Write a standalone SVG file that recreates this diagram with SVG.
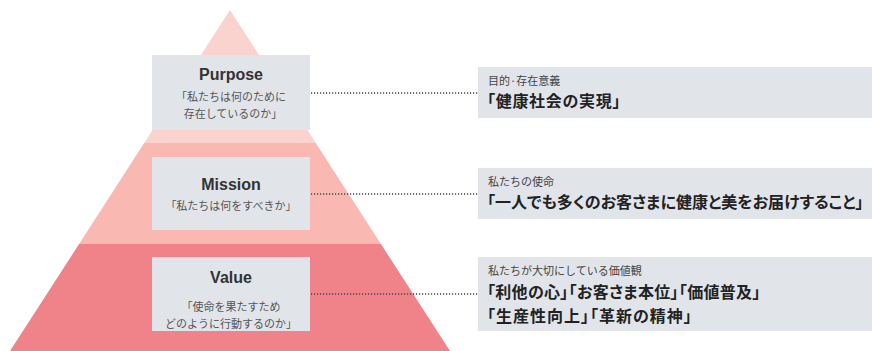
<svg xmlns="http://www.w3.org/2000/svg" width="872" height="351" viewBox="0 0 872 351">
<style>
.box{fill:#e1e5ea}
.title{font-family:"Liberation Sans","Noto Sans CJK JP",sans-serif;font-size:16px;font-weight:bold;fill:#333;text-anchor:middle}
.sub{font-family:"Noto Sans CJK JP",sans-serif;font-size:11px;fill:#555;text-anchor:middle}
.lbl{font-family:"Noto Sans CJK JP",sans-serif;font-size:11px;fill:#444}
.big{font-family:"Noto Sans CJK JP",sans-serif;font-size:16px;font-weight:bold;fill:#222;font-feature-settings:"palt"}
.dot{stroke:#444;stroke-width:1.3;stroke-dasharray:1.2 1.8;fill:none}
</style>
<g id="pyramid">
<polygon points="230,10 315.8,143 144.2,143" fill="#fad3ce"/>
<polygon points="144.2,143 315.8,143 380.9,244 79.1,244" fill="#f9b8b2"/>
<polygon points="79.1,244 380.9,244 450,351 10,351" fill="#f08289"/>
</g>
<g id="connectors">
<line class="dot" x1="311" y1="93" x2="478" y2="93"/>
<line class="dot" x1="311" y1="194" x2="478" y2="194"/>
<line class="dot" x1="311" y1="294" x2="478" y2="294"/>
</g>
<g id="purpose">
<rect class="box" x="152" y="55" width="158" height="75"/>
<text class="title" x="231" y="80">Purpose</text>
<text class="sub" x="231" y="101">「私たちは何のために</text>
<text class="sub" x="233" y="118">存在しているのか」</text>
</g>
<g id="mission">
<rect class="box" x="152" y="157" width="158" height="73"/>
<text class="title" x="231" y="190">Mission</text>
<text class="sub" x="231" y="210">「私たちは何をすべきか」</text>
</g>
<g id="value">
<rect class="box" x="152" y="257" width="158" height="74"/>
<text class="title" x="231" y="283">Value</text>
<text class="sub" x="231" y="311">「使命を果たすため</text>
<text class="sub" x="231" y="328">どのように行動するのか」</text>
</g>
<g id="purpose-desc">
<rect class="box" x="478" y="67" width="394" height="51"/>
<text class="lbl" x="488" y="85">目的·存在意義</text>
<text class="big" x="487" y="107" letter-spacing="0.7">「健康社会の実現」</text>
</g>
<g id="mission-desc">
<rect class="box" x="478" y="168" width="394" height="51"/>
<text class="lbl" x="488" y="186">私たちの使命</text>
<text class="big" x="487" y="208">「一人でも多くのお客さまに健康と美をお届けすること」</text>
</g>
<g id="value-desc">
<rect class="box" x="478" y="257" width="394" height="74"/>
<text class="lbl" x="488" y="275">私たちが大切にしている価値観</text>
<text class="big" x="487" y="298" letter-spacing="0.3">「利他の心」「お客さま本位」「価値普及」</text>
<text class="big" x="487" y="322" letter-spacing="1">「生産性向上」「革新の精神」</text>
</g>
</svg>
